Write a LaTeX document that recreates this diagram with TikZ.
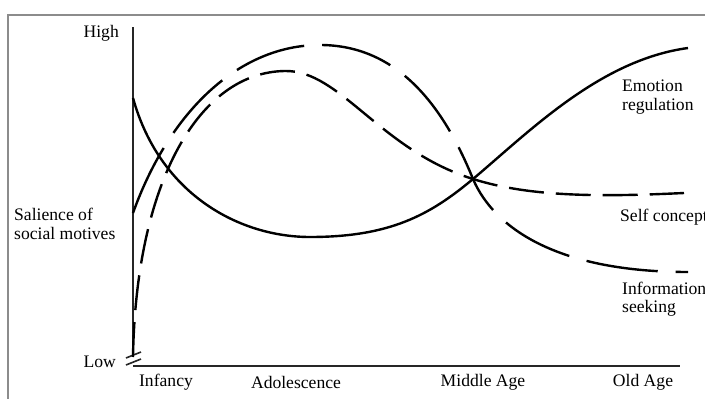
\documentclass[tikz,border=0pt]{standalone}
\usepackage{fontspec}
\setmainfont{Liberation Serif}
\usetikzlibrary{positioning}

\tikzset{
	marco/.style={line width=1.3pt, black!45},
	eje/.style={line width=1.6pt, black!85},
	curva/.style={line width=2.4pt, black},
	selfc/.style={curva, dash pattern=on 35pt off 12pt},
	infos/.style={curva, dash pattern=on 72pt off 18pt},
	etiq/.style={inner sep=0pt, font=\fontsize{17.6}{18.5}\selectfont},
}

\begin{document}
\begin{tikzpicture}[x=1pt, y=-1pt]
	\useasboundingbox (0,0) rectangle (705,399);
	
	%Marco
	\draw[marco] (8,399) -- (8,15) -- (705,15);
	
	%Ejes
	\draw[eje] (133,27) -- (133,352);
	\draw[eje] (133,366) -- (680,366);
	\draw[eje] (126,358) -- (141,352);
	\draw[eje] (126,365) -- (141,359);
	
	\node[etiq, anchor=east] (high) at (119,33) {High};
	\node[etiq, anchor=east] (low) at (116,362) {Low};
	\node[etiq, anchor=west, align=left] (salience) at (14,224) {Salience of\\[0pt]social motives};
	
	\node[etiq] (infancy) at (166,382) {Infancy};
	\node[etiq] (adolescence) at (296,382) {Adolescence};
	\node[etiq] (middle) at (483,382) {Middle Age};
	\node[etiq] (old) at (643,382) {Old Age};
	
	%Curvas
	\draw[curva] (133,98) .. controls (160,195) and (240,237) .. (310,237)
		.. controls (390,237) and (430,215) .. (473,179)
		.. controls (530,131) and (600,60) .. (688,48);
	\draw[selfc] (133,357) .. controls (136,180) and (200,72) .. (285,71)
		.. controls (340,70) and (380,150) .. (473,179)
		.. controls (530,197) and (600,197) .. (684,193);
	\draw[infos] (133,213) .. controls (170,110) and (240,45) .. (320,45)
		.. controls (400,45) and (445,110) .. (473,179)
		.. controls (495,230) and (560,272) .. (688,272);
	
	\node[etiq, anchor=west, align=left] (emotion) at (622,97) {Emotion\\[0pt]regulation};
	\node[etiq, anchor=west] (selfconcept) at (620,217) {Self concept};
	\node[etiq, anchor=west, align=left] (information) at (622,299) {Information\\[0pt]seeking};
\end{tikzpicture}
\end{document}
